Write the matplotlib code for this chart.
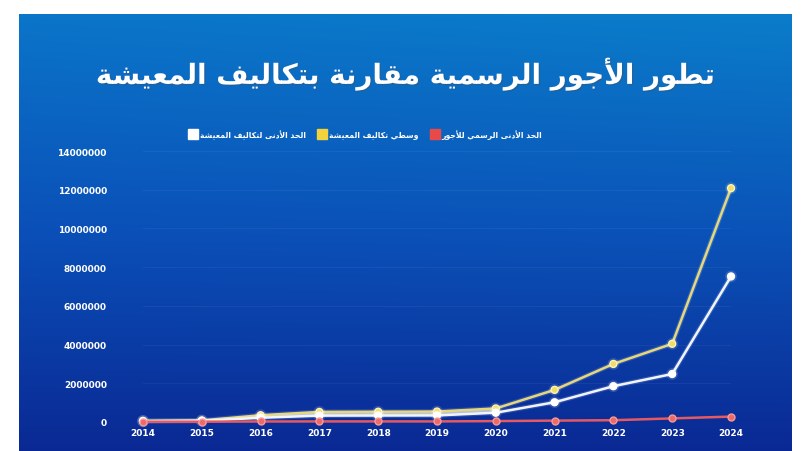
import numpy as np
import matplotlib
matplotlib.use("Agg")
import matplotlib.pyplot as plt
import matplotlib.patheffects as pe
from matplotlib.lines import Line2D

years = [2014, 2015, 2016, 2017, 2018, 2019, 2020, 2021, 2022, 2023, 2024]
min_wage = [16000, 16000, 26000, 30000, 30000, 30000, 47000, 71500, 92970, 185940, 278910]
avg_cost = [60000, 80000, 350000, 520000, 530000, 540000, 700000, 1660000, 3000000, 4040000, 12080000]
min_cost = [40000, 60000, 220000, 330000, 335000, 340000, 480000, 1020000, 1850000, 2480000, 7520000]
y_ticks = [0, 2000000, 4000000, 6000000, 8000000, 10000000, 12000000, 14000000]

title = "تطور الأجور الرسمية مقارنة بتكاليف المعيشة"
label_wage = "الحد الأدنى الرسمي للأجور"
label_avg = "وسطي تكاليف المعيشة"
label_min = "الحد الأدنى لتكاليف المعيشة"

# matplotlib does no arabic shaping, so map letters to presentation forms by hand
FORMS = {
    "ا": ("\uFE8D", "\uFE8E", None, None),
    "أ": ("\uFE83", "\uFE84", None, None),
    "ب": ("\uFE8F", "\uFE90", "\uFE91", "\uFE92"),
    "ة": ("\uFE93", "\uFE94", None, None),
    "ت": ("\uFE95", "\uFE96", "\uFE97", "\uFE98"),
    "ج": ("\uFE9D", "\uFE9E", "\uFE9F", "\uFEA0"),
    "ح": ("\uFEA1", "\uFEA2", "\uFEA3", "\uFEA4"),
    "د": ("\uFEA9", "\uFEAA", None, None),
    "ر": ("\uFEAD", "\uFEAE", None, None),
    "س": ("\uFEB1", "\uFEB2", "\uFEB3", "\uFEB4"),
    "ش": ("\uFEB5", "\uFEB6", "\uFEB7", "\uFEB8"),
    "ط": ("\uFEC1", "\uFEC2", "\uFEC3", "\uFEC4"),
    "ع": ("\uFEC9", "\uFECA", "\uFECB", "\uFECC"),
    "ف": ("\uFED1", "\uFED2", "\uFED3", "\uFED4"),
    "ق": ("\uFED5", "\uFED6", "\uFED7", "\uFED8"),
    "ك": ("\uFED9", "\uFEDA", "\uFEDB", "\uFEDC"),
    "ل": ("\uFEDD", "\uFEDE", "\uFEDF", "\uFEE0"),
    "م": ("\uFEE1", "\uFEE2", "\uFEE3", "\uFEE4"),
    "ن": ("\uFEE5", "\uFEE6", "\uFEE7", "\uFEE8"),
    "و": ("\uFEED", "\uFEEE", None, None),
    "ى": ("\uFEEF", "\uFEF0", None, None),
    "ي": ("\uFEF1", "\uFEF2", "\uFEF3", "\uFEF4"),
    "لا": ("\uFEFB", "\uFEFC", None, None),
    "لأ": ("\uFEF7", "\uFEF8", None, None),
}


def shape(text):
    tokens = []
    i = 0
    while i < len(text):
        if text[i] == "ل" and i + 1 < len(text) and text[i + 1] in "اأ":
            tokens.append(text[i:i + 2])
            i += 2
        else:
            tokens.append(text[i])
            i += 1
    out = []
    for k, t in enumerate(tokens):
        if t not in FORMS:
            out.append(t)
            continue
        prev = tokens[k - 1] if k > 0 else None
        nxt = tokens[k + 1] if k + 1 < len(tokens) else None
        back = prev in FORMS and FORMS[prev][2] is not None
        fwd = FORMS[t][2] is not None and nxt in FORMS
        iso, fin, ini, med = FORMS[t]
        if back and fwd:
            out.append(med)
        elif back:
            out.append(fin)
        elif fwd:
            out.append(ini)
        else:
            out.append(iso)
    return "".join(reversed(out))


W, H = 807, 452
fig = plt.figure(figsize=(W / 100, H / 100), dpi=100)
fig.patch.set_facecolor("white")

# gradient background panel
bg = fig.add_axes([19 / W, 0, (792 - 19) / W, (H - 15) / H])
bg.set_axis_off()
yy, xx = np.mgrid[0:1:200j, 0:1:300j]
top = np.array([0.04, 0.46, 0.79])
mid = np.array([0.04, 0.31, 0.72])
bot = np.array([0.04, 0.16, 0.58])
t = yy[..., None]
col = np.where(t < 0.5, top + (mid - top) * (t / 0.5), mid + (bot - mid) * ((t - 0.5) / 0.5))
col = col + np.array([0.0, 0.03, 0.0]) * (xx[..., None] * (1 - t))
bg.imshow(np.clip(col, 0, 1), aspect="auto", extent=[0, 1, 0, 1])
bg.set_xlim(0, 1)
bg.set_ylim(0, 1)

ax = fig.add_axes([143 / W, (H - 423) / H, 588 / W, 271 / H])
ax.patch.set_alpha(0)
for s in ax.spines.values():
    s.set_visible(False)
ax.set_xlim(2014, 2024)
ax.set_ylim(0, 14000000)

yrs = np.array(years)
ax.fill_between(yrs, min_cost, avg_cost, where=yrs <= 2020, color="#d8dce6", alpha=0.75, lw=0, zorder=2)

glow = [pe.Stroke(linewidth=3.5, alpha=0.15, foreground="white"), pe.Normal()]
ax.plot(years, avg_cost, color="#e6d77a", lw=1.8, marker="o", ms=5, mfc="#f0dc6a", mec="#fff4b0",
        clip_on=False, zorder=3, path_effects=glow)
ax.plot(years, min_cost, color="#f2f5ff", lw=1.8, marker="o", ms=5, mfc="white", mec="white",
        clip_on=False, zorder=4, path_effects=glow)
ax.plot(years, min_wage, color="#e45a62", lw=1.8, marker="o", ms=5, mfc="#ec6a6a", mec="#f59a9a",
        clip_on=False, zorder=5)

ax.set_yticks(y_ticks)
ax.set_yticklabels([str(v) for v in y_ticks])
ax.set_xticks(years)
ax.set_xticklabels([str(y) for y in years])
ax.tick_params(axis="y", length=0, pad=26, labelsize=6.5, labelcolor="white")
ax.tick_params(axis="x", length=0, pad=4, labelsize=6.5, labelcolor="white")
for lab in ax.get_xticklabels() + ax.get_yticklabels():
    lab.set_fontweight("bold")
ax.grid(axis="y", color="white", alpha=0.05, lw=0.8)

fig.text(405 / W, 1 - 75 / H, shape(title), ha="center", va="center", color="white",
         fontsize=20, fontweight="bold", family=["DejaVu Sans"],
         path_effects=[pe.withSimplePatchShadow(offset=(1, -1), alpha=0.3)])

handles = [
    Line2D([], [], ls="none", marker="s", ms=7, mfc="white", mec="white"),
    Line2D([], [], ls="none", marker="s", ms=7, mfc="#f3d23c", mec="#f3d23c"),
    Line2D([], [], ls="none", marker="s", ms=7, mfc="#e84a4a", mec="#e84a4a"),
]
labels = [shape(label_min), shape(label_avg), shape(label_wage)]
leg = fig.legend(handles, labels, loc="center", bbox_to_anchor=(366 / W, 1 - 135 / H), ncol=3,
                 frameon=False, fontsize=5.5, handletextpad=0.4, columnspacing=1.6, handlelength=1)
for txt in leg.get_texts():
    txt.set_color("white")
    txt.set_fontweight("bold")

fig.savefig("out.png", dpi=100)
